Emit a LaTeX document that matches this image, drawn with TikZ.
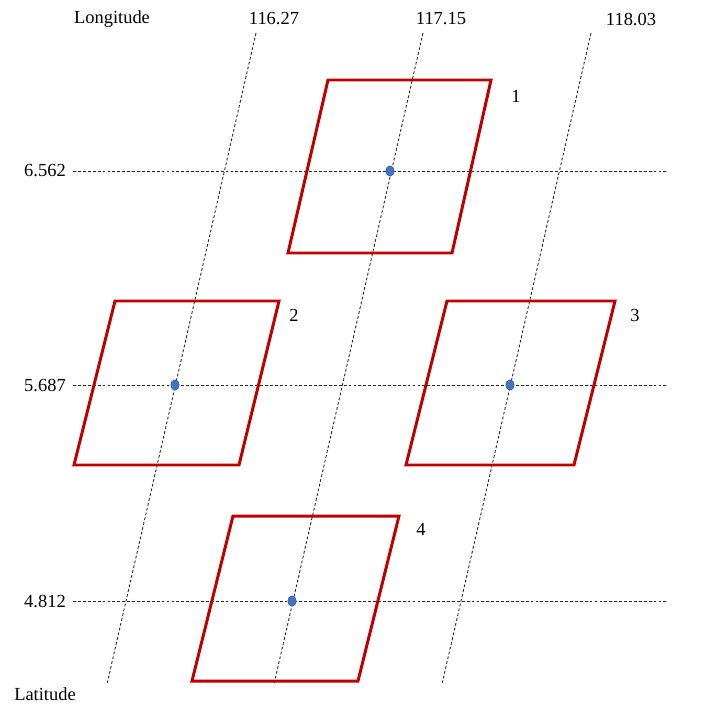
\documentclass[tikz,border=0pt]{standalone}
\usepackage{fontspec}
\setmainfont{Liberation Serif}
\usepackage{xcolor}
\usetikzlibrary{positioning}

\definecolor{boxred}{RGB}{192,0,0}
\definecolor{dotblue}{RGB}{68,114,196}
\definecolor{dotedge}{RGB}{47,82,143}

\begin{document}
\begin{tikzpicture}[
    x=0.02cm, y=-0.02cm,
    label/.style={
        font=\fontsize{10.5}{12}\selectfont,
        inner sep=1pt
    },
    gridline/.style={
        black!85,
        line width=0.5pt,
        dash pattern=on 1.6pt off 1.2pt
    },
    region/.style={
        draw=boxred,
        line width=1.7pt,
        line join=miter
    },
    centre/.style={
        fill=dotblue,
        draw=dotedge,
        line width=0.3pt
    }
]
\useasboundingbox (0,0) rectangle (702,706);

% Axis titles
\node[label] (lon) at (112,19)  {Longitude};
\node[label] (lat) at (45,694)  {Latitude};

% Longitude values (top)
\node[label] (lonA) at (274,19) {116.27};
\node[label] (lonB) at (441,19) {117.15};
\node[label] (lonC) at (631,19) {118.03};

% Latitude values (left)
\node[label] (latA) at (45,171) {6.562};
\node[label] (latB) at (45,385) {5.687};
\node[label] (latC) at (45,601) {4.812};

% Ends of the grid lines
\coordinate (latAend) at (667,171);
\coordinate (latBend) at (667,385);
\coordinate (latCend) at (667,601);
\coordinate (lonAtop) at (256,33);
\coordinate (lonAbot) at (107,684);
\coordinate (lonBtop) at (423,33);
\coordinate (lonBbot) at (274,684);
\coordinate (lonCtop) at (591,33);
\coordinate (lonCbot) at (442,684);

% Grid lines
\draw[gridline, shorten <=3pt] (latA.east) -- (latAend);
\draw[gridline, shorten <=3pt] (latB.east) -- (latBend);
\draw[gridline, shorten <=3pt] (latC.east) -- (latCend);
\draw[gridline] (lonAtop) -- (lonAbot);
\draw[gridline] (lonBtop) -- (lonBbot);
\draw[gridline] (lonCtop) -- (lonCbot);

% Regions
\draw[region] (328,80)  -- (491,80)  -- (452,253) -- (288,253) -- cycle;
\draw[region] (115,301) -- (279,301) -- (239,465) -- (74,465)  -- cycle;
\draw[region] (447,301) -- (615,301) -- (574,465) -- (406,465) -- cycle;
\draw[region] (233,516) -- (399,516) -- (358,681) -- (192,681) -- cycle;

% Region numbers
\node[label] (n1) at (516,96)  {1};
\node[label] (n2) at (294,315) {2};
\node[label] (n3) at (635,315) {3};
\node[label] (n4) at (421,529) {4};

% Centre points
\filldraw[centre] (390,171) ellipse [x radius=4.2, y radius=5.2];
\filldraw[centre] (175,385) ellipse [x radius=4.2, y radius=5.2];
\filldraw[centre] (510,385) ellipse [x radius=4.2, y radius=5.2];
\filldraw[centre] (292,601) ellipse [x radius=4.2, y radius=5.2];

\end{tikzpicture}
\end{document}
